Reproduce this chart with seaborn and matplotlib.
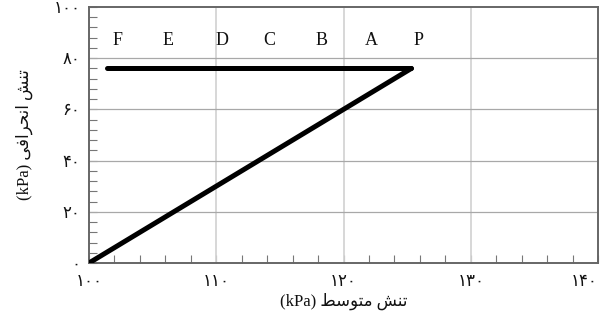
import matplotlib
matplotlib.use("Agg")
import matplotlib.pyplot as plt
from matplotlib.ticker import MultipleLocator, FixedLocator, FixedFormatter
import seaborn as sns
import pandas as pd

# Stress path: mean stress p (kPa) vs deviator stress q (kPa)
path_p = [100.0, 125.33]
path_q = [0.0, 76.0]

# Reference line of constant deviator stress
level_p = [101.4, 125.33]
level_q = [76.0, 76.0]

# Point labels along the top of the chart
point_names = ["F", "E", "D", "C", "B", "A", "P"]
point_p = [102.24, 106.2, 110.45, 114.2, 118.3, 122.2, 125.9]
point_q = 85.3

x_ticks = [100, 110, 120, 130, 140]
x_tick_labels = ["۱۰۰", "۱۱۰", "۱۲۰", "۱۳۰", "۱۴۰"]
y_ticks = [0, 20, 40, 60, 80, 100]
y_tick_labels = ["۰", "۲۰", "۴۰", "۶۰", "۸۰", "۱۰۰"]

# Persian axis titles, written with Arabic presentation forms in visual order
x_title = "(kPa) \uFEC2\uFEB3\uFEEE\uFE98\uFEE3 \uFEB6\uFEE8\uFE97"
y_title = "(kPa) \uFBFD\uFED3\uFE8D\uFEAE\uFEA4\uFEE7\uFE8D \uFEB6\uFEE8\uFE97"

sns.set_theme(style="white")
plt.rcParams["font.family"] = ["Liberation Serif", "DejaVu Sans"]

fig = plt.figure(figsize=(6.02, 3.2), dpi=100)
ax = fig.add_axes([89 / 602, 1 - 263 / 320, (598 - 89) / 602, (263 - 7) / 320])

path_df = pd.DataFrame({"p": path_p, "q": path_q})
level_df = pd.DataFrame({"p": level_p, "q": level_q})

sns.lineplot(data=path_df, x="p", y="q", sort=False, color="black",
             linewidth=3.6, ax=ax, zorder=3)
sns.lineplot(data=level_df, x="p", y="q", sort=False, color="black",
             linewidth=3.6, ax=ax, zorder=3, solid_capstyle="round")

for name, p in zip(point_names, point_p):
    ax.text(p, point_q, name, ha="center", va="baseline", fontsize=13,
            color="#111111", family=["Liberation Serif", "DejaVu Sans"])

ax.set_xlim(100, 140)
ax.set_ylim(0, 100)

ax.xaxis.set_major_locator(FixedLocator(x_ticks))
ax.xaxis.set_major_formatter(FixedFormatter(x_tick_labels))
ax.yaxis.set_major_locator(FixedLocator(y_ticks))
ax.yaxis.set_major_formatter(FixedFormatter(y_tick_labels))
ax.xaxis.set_minor_locator(MultipleLocator(2))
ax.yaxis.set_minor_locator(MultipleLocator(4))

ax.tick_params(which="both", direction="in", length=5.5, width=0.8,
               color="#777777", bottom=True, left=True, top=False, right=False)
ax.tick_params(axis="x", which="major", pad=8, labelsize=12, labelcolor="#111111")
ax.tick_params(axis="y", which="major", pad=6, labelsize=12, labelcolor="#111111")

# Keep the last x tick label inside the figure
fig.canvas.draw()
ax.get_xticklabels()[-1].set_horizontalalignment("right")

# Grid: vertical lines lighter than horizontal ones
for xv in x_ticks[1:-1]:
    ax.axvline(xv, color="#d4d4d4", linewidth=1.3, zorder=1)
for yv in y_ticks[1:-1]:
    ax.axhline(yv, color="#a8a8a8", linewidth=0.9, zorder=1)

for side in ["left", "bottom", "right", "top"]:
    ax.spines[side].set_visible(True)
    ax.spines[side].set_color("#666666")
    ax.spines[side].set_linewidth(1.4)

ax.set_xlabel(x_title, fontsize=12, labelpad=2, color="#111111")
ax.set_ylabel(y_title, fontsize=12, labelpad=15, color="#111111")

fig.savefig("out.png", dpi=100)
